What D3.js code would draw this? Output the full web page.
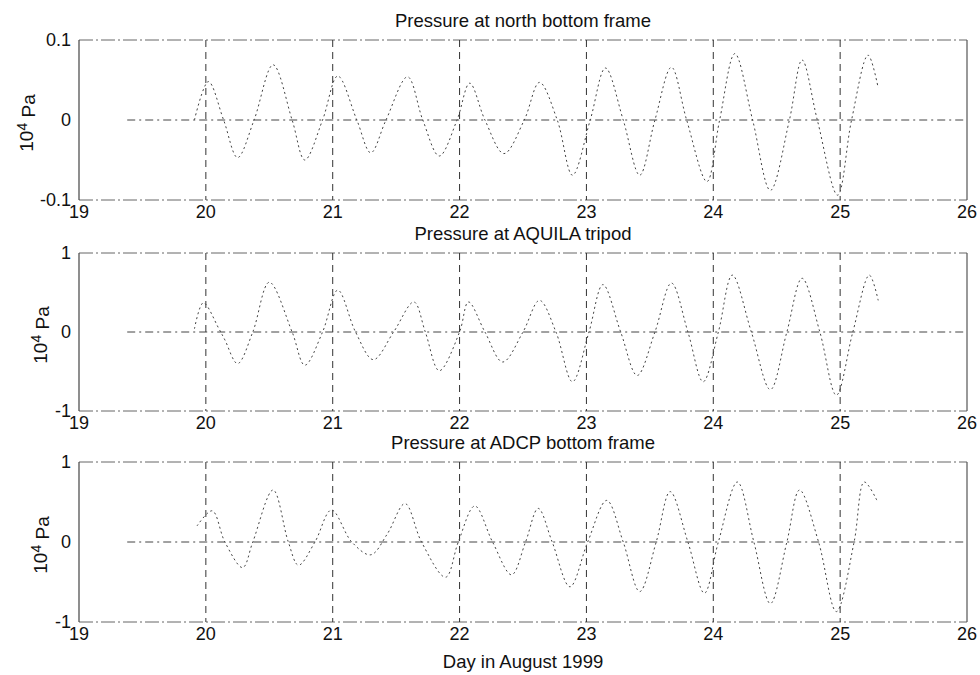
<!DOCTYPE html>
<html>
<head>
<meta charset="utf-8">
<script src="https://cdn.jsdelivr.net/npm/d3@7"></script>
<style>
  body { margin: 0; background: #fff; }
  text { font-family: "Liberation Sans", Arial, Helvetica, sans-serif; fill: #111; }
</style>
</head>
<body>
<div id="chart"></div>
<script>
// x axis
const xTicks = [19, 20, 21, 22, 23, 24, 25, 26];
const xGrid = [20, 21, 22, 23, 24, 25];
const zeroLineStart = 19.38;

// Pressure at north bottom frame (10^4 Pa)
const northDays = [19.91, 20.02, 20.14, 20.25, 20.38, 20.53, 20.68, 20.78, 20.92, 21.04,
  21.19, 21.30, 21.42, 21.59, 21.71, 21.84, 21.98, 22.08, 22.20, 22.35, 22.51, 22.63,
  22.77, 22.89, 23.03, 23.15, 23.29, 23.42, 23.54, 23.67, 23.79, 23.95, 24.05, 24.17,
  24.31, 24.45, 24.60, 24.70, 24.82, 24.98, 25.09, 25.22, 25.30];
const northVals = [0.000, 0.048, 0.000, -0.047, 0.000, 0.069, 0.000, -0.050, 0.000, 0.055,
  0.000, -0.041, 0.000, 0.054, 0.000, -0.045, 0.000, 0.046, 0.000, -0.042, 0.000, 0.047,
  0.000, -0.069, 0.000, 0.065, 0.000, -0.069, 0.000, 0.066, 0.000, -0.077, 0.000, 0.083,
  0.000, -0.088, 0.000, 0.075, 0.000, -0.094, 0.000, 0.081, 0.040];

// Pressure at AQUILA tripod
const aquilaDays = [19.91, 19.98, 20.10, 20.15, 20.25, 20.37, 20.50, 20.68, 20.78, 20.92,
  21.04, 21.18, 21.32, 21.48, 21.64, 21.73, 21.84, 22.00, 22.07, 22.20, 22.34, 22.50,
  22.63, 22.76, 22.89, 23.02, 23.13, 23.27, 23.40, 23.54, 23.67, 23.80, 23.92, 24.04,
  24.15, 24.30, 24.45, 24.58, 24.70, 24.84, 24.97, 25.10, 25.23, 25.30];
const aquilaVals = [0.04, 0.37, 0.05, -0.10, -0.40, 0.00, 0.63, 0.00, -0.42, 0.00,
  0.53, 0.00, -0.35, 0.00, 0.38, 0.00, -0.49, 0.00, 0.38, 0.00, -0.38, 0.00,
  0.40, 0.00, -0.63, 0.00, 0.60, 0.00, -0.55, 0.00, 0.62, 0.00, -0.63, 0.00,
  0.72, 0.00, -0.73, 0.00, 0.68, 0.00, -0.80, 0.00, 0.72, 0.40];

// Pressure at ADCP bottom frame
const adcpDays = [19.93, 20.05, 20.15, 20.29, 20.37, 20.53, 20.65, 20.73, 20.86, 20.99,
  21.15, 21.30, 21.43, 21.57, 21.70, 21.89, 21.99, 22.12, 22.26, 22.41, 22.52, 22.62,
  22.73, 22.87, 23.01, 23.16, 23.29, 23.42, 23.55, 23.66, 23.80, 23.93, 24.04, 24.19,
  24.32, 24.45, 24.58, 24.68, 24.83, 24.97, 25.11, 25.19, 25.29];
const adcpVals = [0.20, 0.39, 0.00, -0.32, 0.00, 0.65, 0.00, -0.29, 0.00, 0.40,
  0.00, -0.16, 0.10, 0.48, 0.00, -0.44, 0.00, 0.45, 0.00, -0.41, 0.00, 0.42,
  0.00, -0.56, 0.00, 0.52, 0.00, -0.62, 0.00, 0.63, 0.00, -0.64, 0.00, 0.75,
  0.00, -0.77, 0.00, 0.65, 0.00, -0.87, 0.00, 0.75, 0.52];

const panels = [
  { title: 'Pressure at north bottom frame', days: northDays, vals: northVals,
    yMax: 0.1, yTicks: [0.1, 0, -0.1], yTickText: ['0.1', '0', '-0.1'],
    top: 40, bottom: 200, labelX: 33 },
  { title: 'Pressure at AQUILA tripod', days: aquilaDays, vals: aquilaVals,
    yMax: 1, yTicks: [1, 0, -1], yTickText: ['1', '0', '-1'],
    top: 253, bottom: 411, labelX: 47 },
  { title: 'Pressure at ADCP bottom frame', days: adcpDays, vals: adcpVals,
    yMax: 1, yTicks: [1, 0, -1], yTickText: ['1', '0', '-1'],
    top: 462, bottom: 622, labelX: 47 }
];

const width = 980, height = 675;
const left = 79, right = 967;

const svg = d3.select('#chart').append('svg')
  .attr('width', width).attr('height', height);

const x = d3.scaleLinear().domain([19, 26]).range([left, right]);

panels.forEach(p => {
  const y = d3.scaleLinear().domain([-p.yMax, p.yMax]).range([p.bottom, p.top]);
  const g = svg.append('g');

  // top / bottom box edges (dash-dot, like the scan)
  [p.top, p.bottom].forEach(yy => {
    g.append('line')
      .attr('x1', left).attr('x2', right).attr('y1', yy).attr('y2', yy)
      .attr('stroke', '#666').attr('stroke-width', 1)
      .attr('stroke-dasharray', '14,3,2,3');
  });

  // vertical grid
  xGrid.forEach(d => {
    g.append('line')
      .attr('x1', x(d)).attr('x2', x(d)).attr('y1', p.top).attr('y2', p.bottom)
      .attr('stroke', '#333').attr('stroke-width', 1)
      .attr('stroke-dasharray', '7,5');
  });

  // zero line
  g.append('line')
    .attr('x1', x(zeroLineStart)).attr('x2', right).attr('y1', y(0)).attr('y2', y(0))
    .attr('stroke', '#444').attr('stroke-width', 1)
    .attr('stroke-dasharray', '8,4,2,4');

  // left and right axes
  g.append('line').attr('x1', left).attr('x2', left).attr('y1', p.top).attr('y2', p.bottom)
    .attr('stroke', '#444').attr('stroke-width', 1.2);
  g.append('line').attr('x1', right).attr('x2', right).attr('y1', p.top).attr('y2', p.bottom)
    .attr('stroke', '#555').attr('stroke-width', 1.2);

  // data curve
  const pts = p.days.map((d, i) => [d, p.vals[i]]);
  const line = d3.line().x(d => x(d[0])).y(d => y(d[1])).curve(d3.curveCatmullRom.alpha(0.5));
  g.append('path')
    .attr('d', line(pts))
    .attr('fill', 'none')
    .attr('stroke', '#444').attr('stroke-width', 1)
    .attr('stroke-dasharray', '2,3');

  // x tick labels
  g.selectAll('.xt').data(xTicks).enter().append('text')
    .attr('x', d => x(d)).attr('y', p.bottom + 18)
    .attr('text-anchor', 'middle').style('font-size', '18px')
    .text(d => d);

  // y tick labels
  g.selectAll('.yt').data(p.yTicks).enter().append('text')
    .attr('x', left - 8).attr('y', d => y(d)).attr('dy', '0.36em')
    .attr('text-anchor', 'end').style('font-size', '18px')
    .text((d, i) => p.yTickText[i]);

  // y label
  const yl = g.append('text')
    .attr('transform', `translate(${p.labelX},${(p.top + p.bottom) / 2 + 3}) rotate(-90)`)
    .attr('text-anchor', 'middle').style('font-size', '19px');
  yl.append('tspan').text('10');
  yl.append('tspan').attr('dy', '-0.45em').style('font-size', '14px').text('4');
  yl.append('tspan').attr('dy', '0.45em').text(' Pa');

  // title
  g.append('text')
    .attr('x', (left + right) / 2).attr('y', p.top - 13)
    .attr('text-anchor', 'middle').style('font-size', '18.5px')
    .text(p.title);
});

svg.append('text')
  .attr('x', (left + right) / 2).attr('y', 668)
  .attr('text-anchor', 'middle').style('font-size', '18.5px')
  .text('Day in August 1999');
</script>
</body>
</html>
